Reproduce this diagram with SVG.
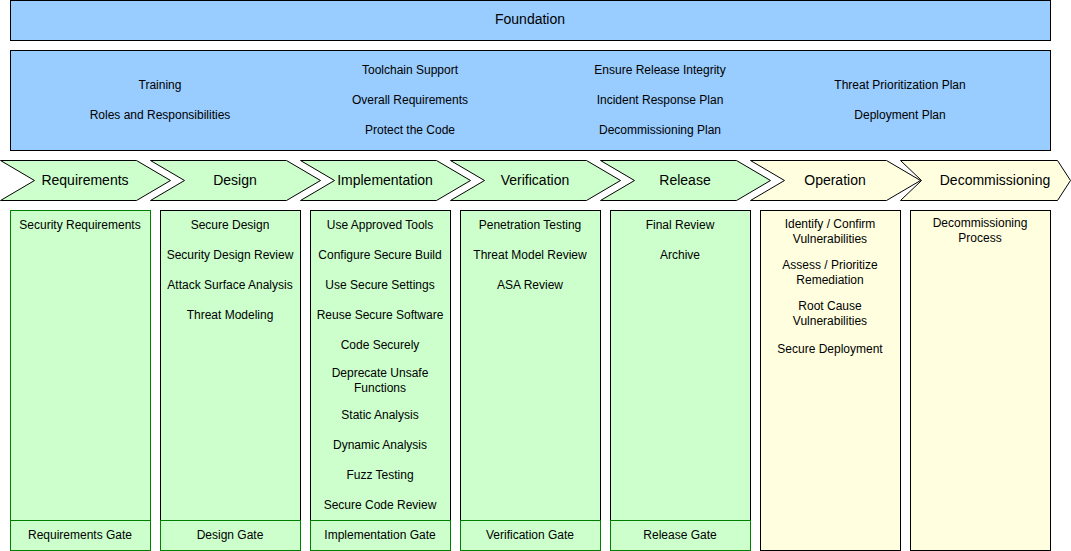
<svg xmlns="http://www.w3.org/2000/svg" width="1071" height="551" viewBox="0 0 1071 551">
<style>
text{font-family:"Liberation Sans",Arial,Helvetica,sans-serif;fill:#000;text-anchor:middle}
.s{font-size:12px}
.l{font-size:14px}
.blue{fill:#99CCFF;stroke:#000;stroke-width:1}
.gch{fill:#CCFFCC;stroke:#000;stroke-width:1}
.ych{fill:#FFFFE0;stroke:#000;stroke-width:1}
.gcol{fill:#CCFFCC;stroke:#000;stroke-width:1}
.gcolg{fill:#CCFFCC;stroke:#008000;stroke-width:1}
.ycol{fill:#FFFFE0;stroke:#000;stroke-width:1}
.gate{fill:#CCFFCC;stroke:#008000;stroke-width:1}
</style>
<g id="foundation">
<rect class="blue" x="10.5" y="0.5" width="1040" height="40"/>
<text class="l" x="530" y="24">Foundation</text>
</g>
<g id="foundation-items">
<rect class="blue" x="10.5" y="50.5" width="1040" height="100"/>
<text class="s" x="160" y="89">Training</text>
<text class="s" x="160" y="119">Roles and Responsibilities</text>
<text class="s" x="410" y="74">Toolchain Support</text>
<text class="s" x="410" y="104">Overall Requirements</text>
<text class="s" x="410" y="134">Protect the Code</text>
<text class="s" x="660" y="74">Ensure Release Integrity</text>
<text class="s" x="660" y="104">Incident Response Plan</text>
<text class="s" x="660" y="134">Decommissioning Plan</text>
<text class="s" x="900" y="89">Threat Prioritization Plan</text>
<text class="s" x="900" y="119">Deployment Plan</text>
</g>
<g id="phase-requirements">
<polygon class="gch" points="0.5,160.5 136.5,160.5 170.5,180.5 136.5,200.5 0.5,200.5 34.5,180.5"/>
<text class="l" x="85" y="185">Requirements</text>
</g>
<g id="phase-design">
<polygon class="gch" points="150.5,160.5 286.5,160.5 320.5,180.5 286.5,200.5 150.5,200.5 184.5,180.5"/>
<text class="l" x="235" y="185">Design</text>
</g>
<g id="phase-implementation">
<polygon class="gch" points="300.5,160.5 436.5,160.5 470.5,180.5 436.5,200.5 300.5,200.5 334.5,180.5"/>
<text class="l" x="385" y="185">Implementation</text>
</g>
<g id="phase-verification">
<polygon class="gch" points="450.5,160.5 586.5,160.5 620.5,180.5 586.5,200.5 450.5,200.5 484.5,180.5"/>
<text class="l" x="535" y="185">Verification</text>
</g>
<g id="phase-release">
<polygon class="gch" points="600.5,160.5 736.5,160.5 770.5,180.5 736.5,200.5 600.5,200.5 634.5,180.5"/>
<text class="l" x="685" y="185">Release</text>
</g>
<g id="phase-operation">
<polygon class="ych" points="750.5,160.5 886.5,160.5 920.5,180.5 886.5,200.5 750.5,200.5 784.5,180.5"/>
<text class="l" x="835" y="185">Operation</text>
</g>
<g id="phase-decommissioning">
<polygon class="ych" points="900.5,160.5 1057.5,160.5 1070.5,180.5 1057.5,200.5 900.5,200.5 921.5,180.5"/>
<text class="l" x="995" y="185">Decommissioning</text>
</g>
<g id="col-requirements">
<rect class="gcolg" x="10.5" y="210.5" width="140" height="340"/>
<text class="s" x="80" y="229">Security Requirements</text>
</g>
<g id="gate-requirements">
<rect class="gate" x="10.5" y="520.5" width="140" height="30"/>
<text class="s" x="80" y="539">Requirements Gate</text>
</g>
<g id="col-design">
<rect class="gcol" x="160.5" y="210.5" width="140" height="340"/>
<text class="s" x="230" y="229">Secure Design</text>
<text class="s" x="230" y="259">Security Design Review</text>
<text class="s" x="230" y="289">Attack Surface Analysis</text>
<text class="s" x="230" y="319">Threat Modeling</text>
</g>
<g id="gate-design">
<rect class="gate" x="160.5" y="520.5" width="140" height="30"/>
<text class="s" x="230" y="539">Design Gate</text>
</g>
<g id="col-implementation">
<rect class="gcol" x="310.5" y="210.5" width="140" height="340"/>
<text class="s" x="380" y="229">Use Approved Tools</text>
<text class="s" x="380" y="259">Configure Secure Build</text>
<text class="s" x="380" y="289">Use Secure Settings</text>
<text class="s" x="380" y="319">Reuse Secure Software</text>
<text class="s" x="380" y="349">Code Securely</text>
<text class="s" x="380" y="377">Deprecate Unsafe</text>
<text class="s" x="380" y="392">Functions</text>
<text class="s" x="380" y="419">Static Analysis</text>
<text class="s" x="380" y="449">Dynamic Analysis</text>
<text class="s" x="380" y="479">Fuzz Testing</text>
<text class="s" x="380" y="509">Secure Code Review</text>
</g>
<g id="gate-implementation">
<rect class="gate" x="310.5" y="520.5" width="140" height="30"/>
<text class="s" x="380" y="539">Implementation Gate</text>
</g>
<g id="col-verification">
<rect class="gcol" x="460.5" y="210.5" width="140" height="340"/>
<text class="s" x="530" y="229">Penetration Testing</text>
<text class="s" x="530" y="259">Threat Model Review</text>
<text class="s" x="530" y="289">ASA Review</text>
</g>
<g id="gate-verification">
<rect class="gate" x="460.5" y="520.5" width="140" height="30"/>
<text class="s" x="530" y="539">Verification Gate</text>
</g>
<g id="col-release">
<rect class="gcol" x="610.5" y="210.5" width="140" height="340"/>
<text class="s" x="680" y="229">Final Review</text>
<text class="s" x="680" y="259">Archive</text>
</g>
<g id="gate-release">
<rect class="gate" x="610.5" y="520.5" width="140" height="30"/>
<text class="s" x="680" y="539">Release Gate</text>
</g>
<g id="col-operation">
<rect class="ycol" x="760.5" y="210.5" width="140" height="340"/>
<text class="s" x="830" y="228">Identify / Confirm</text>
<text class="s" x="830" y="243">Vulnerabilities</text>
<text class="s" x="830" y="269">Assess / Prioritize</text>
<text class="s" x="830" y="284">Remediation</text>
<text class="s" x="830" y="310">Root Cause</text>
<text class="s" x="830" y="325">Vulnerabilities</text>
<text class="s" x="830" y="353">Secure Deployment</text>
</g>
<g id="col-decommissioning">
<rect class="ycol" x="910.5" y="210.5" width="140" height="340"/>
<text class="s" x="980" y="227">Decommissioning</text>
<text class="s" x="980" y="242">Process</text>
</g>
<g id="connectors"></g>
</svg>
